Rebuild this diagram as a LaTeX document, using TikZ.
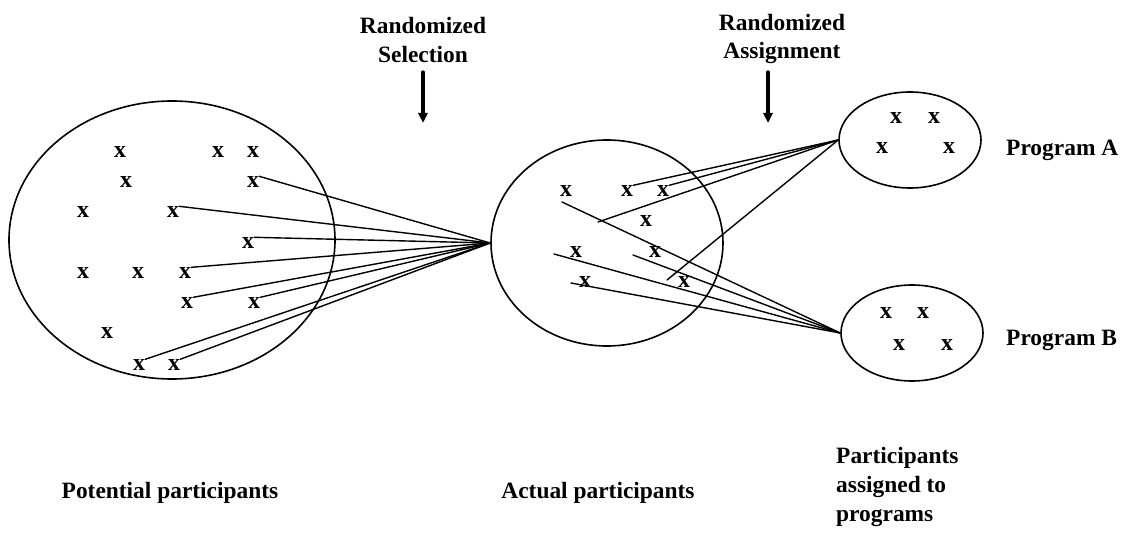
\documentclass[tikz,border=0pt]{standalone}
\usepackage{fontspec}
\setmainfont{Liberation Serif}
\usetikzlibrary{arrows.meta,shapes.geometric}

\begin{document}
\begin{tikzpicture}[
  x=1bp,
  y=-1bp,
  line cap=round,
  line join=round,
  group/.style={draw=black, line width=1.6bp, ellipse, inner sep=0},
  person/.style={font=\bfseries\fontsize{24}{26}\selectfont, inner sep=0},
  link/.style={draw=black, line width=1.4bp},
  pointer/.style={draw=black, line width=3.2bp, -{Triangle[length=10bp,width=9bp]}},
  caption/.style={font=\bfseries\fontsize{23.5}{29}\selectfont, inner sep=0},
  every node/.style={inner sep=0}
]
\path[use as bounding box] (0,0) rectangle (1134,534);
\fill[white] (0,0) rectangle (1134,534);

% Groups
\node[group, minimum width=326bp, minimum height=278bp] (pool) at (172,240) {};
\node[group, minimum width=232bp, minimum height=206bp] (actual) at (607,243) {};
\node[group, minimum width=142bp, minimum height=96bp] (progA) at (910,140) {};
\node[group, minimum width=142bp, minimum height=96bp] (progB) at (912,333) {};

% Potential participants
\node[person] (p1) at (120,152) {x};
\node[person] (p2) at (218,152) {x};
\node[person] (p3) at (253,152) {x};
\node[person] (p4) at (126,182) {x};
\node[person] (p5) at (253,182) {x};
\node[person] (p6) at (83,212) {x};
\node[person] (p7) at (173,212) {x};
\node[person] (p8) at (248,243) {x};
\node[person] (p9) at (83,273) {x};
\node[person] (p10) at (138,273) {x};
\node[person] (p11) at (185,273) {x};
\node[person] (p12) at (187,303) {x};
\node[person] (p13) at (254,303) {x};
\node[person] (p14) at (107,333) {x};
\node[person] (p15) at (139,365) {x};
\node[person] (p16) at (174,365) {x};

% Actual participants
\node[person] (m1) at (566,191) {x};
\node[person] (m2) at (627,191) {x};
\node[person] (m3) at (663,191) {x};
\node[person] (m4) at (646,221) {x};
\node[person] (m5) at (576,252) {x};
\node[person] (m6) at (655,252) {x};
\node[person] (m7) at (585,282) {x};
\node[person] (m8) at (684,282) {x};

% Programs
\node[person] (a1) at (896,118) {x};
\node[person] (a2) at (934,118) {x};
\node[person] (a3) at (882,148) {x};
\node[person] (a4) at (949,148) {x};
\node[person] (b1) at (886,313) {x};
\node[person] (b2) at (923,313) {x};
\node[person] (b3) at (899,345) {x};
\node[person] (b4) at (947,345) {x};

\node[caption, anchor=west] (labA) at (1006,150) {Program A};
\node[caption, anchor=west] (labB) at (1006,340) {Program B};

% Top labels and arrows
\node[caption, align=center] (sel) at (423,40) {Randomized\\Selection};
\node[caption, align=center] (asg) at (782,39) {Randomized\\Assignment};
\coordinate (selTip) at (423,123);
\coordinate (asgTip) at (768,123);
\draw[pointer] (423,72) -- (selTip);
\draw[pointer] (768,72) -- (asgTip);

% Bottom labels
\node[caption] (potLab) at (170,493) {Potential participants};
\node[caption] (actLab) at (598,493) {Actual participants};
\node[caption, align=left, anchor=north west] (prgLab) at (836,447)
  {Participants\\assigned to\\programs};

% Selection lines
\draw[link] (p5.north east) -- (actual.west);
\draw[link] (p7.north east) -- (actual.west);
\draw[link] (p8.north east) -- (actual.west);
\draw[link] (p11.north east) -- (actual.west);
\draw[link] (p12.north east) -- (actual.west);
\draw[link] (p13.north east) -- (actual.west);
\draw[link] (p15.north east) -- (actual.west);
\draw[link] (p16.north east) -- (actual.west);

% Assignment lines
\coordinate (sa1) at (598,222);
\coordinate (sa2) at (667,280);
\coordinate (sb1) at (562,202);
\coordinate (sb2) at (554,254);
\coordinate (sb3) at (633,255);
\coordinate (sb4) at (571,283);
\draw[link] (m2.north east) -- (progA.west);
\draw[link] (m3.north east) -- (progA.west);
\draw[link] (sa1) -- (progA.west);
\draw[link] (sa2) -- (progA.west);
\draw[link] (sb1) -- (progB.west);
\draw[link] (sb2) -- (progB.west);
\draw[link] (sb3) -- (progB.west);
\draw[link] (sb4) -- (progB.west);

\end{tikzpicture}
\end{document}
